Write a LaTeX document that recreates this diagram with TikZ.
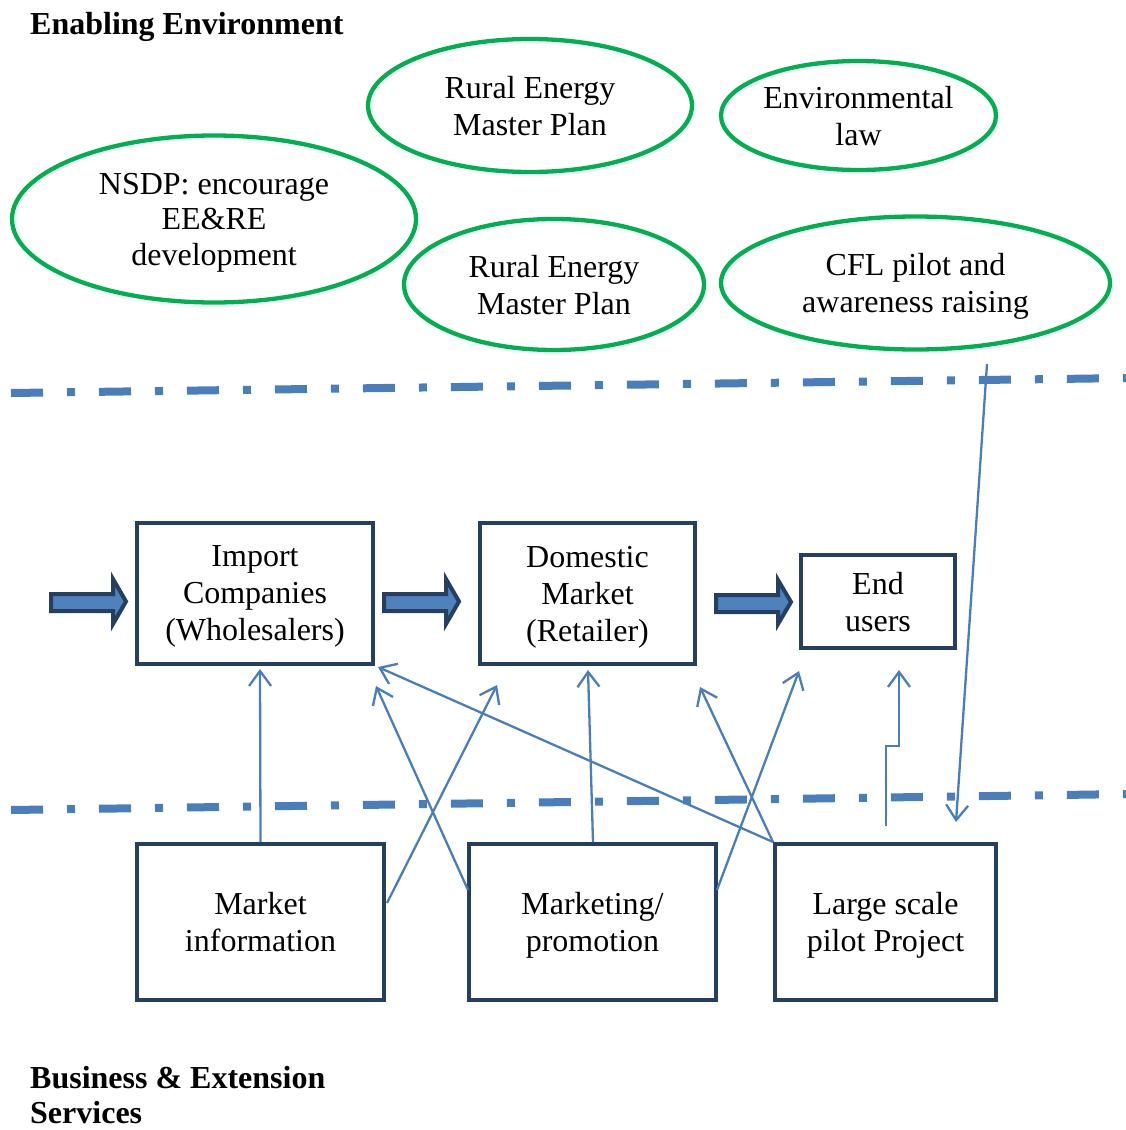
\documentclass[tikz,border=0pt]{standalone}
\usepackage{fontspec}
\setmainfont{Liberation Serif}
\usetikzlibrary{arrows.meta,shapes.geometric,calc}
\definecolor{ellgreen}{HTML}{00B050}
\definecolor{navy}{HTML}{243F60}
\definecolor{lblue}{HTML}{4A7EBB}
\definecolor{afill}{HTML}{4F81BD}
\begin{document}
\begin{tikzpicture}[x=1pt,y=-1pt,
  every node/.style={font=\fontsize{32}{37}\selectfont},
  ell/.style={ellipse,draw=ellgreen,line width=4.3pt,inner sep=0pt,align=center,text depth=0pt},
  box/.style={rectangle,draw=navy,line width=4pt,inner sep=0pt,align=center,text depth=0pt},
  ttl/.style={font=\fontsize{32}{35.5}\selectfont\bfseries,inner sep=0pt,align=left,text depth=0pt},
  conn/.style={draw=lblue,line width=2.3pt,-{Straight Barb[length=15pt,width=22pt,line width=2.3pt]}},
  sep/.style={draw=lblue,line width=8pt,dash pattern=on 32pt off 24pt on 8pt off 24pt},
  blk/.style={draw=navy,fill=afill,line width=4pt,line join=miter}
]
\useasboundingbox (0,0) rectangle (1126,1130);

% titles
\node[ttl,anchor=base west] (t1) at (30,34) {Enabling Environment};
\node[ttl,anchor=north west] (t2) at (30,1066) {Business \& Extension\\Services};

% ellipses
\node[ell,minimum width=324pt,minimum height=133pt] (e1) at (530,105.5) {Rural Energy\\Master Plan};
\node[ell,minimum width=275pt,minimum height=109pt] (e2) at (858.5,115.5) {Environmental\\law};
\node[ell,minimum width=404pt,minimum height=167pt,font=\fontsize{32}{35.5}\selectfont] (e3) at (214,219) {NSDP: encourage\\EE\&RE\\development};
\node[ell,minimum width=300pt,minimum height=131pt] (e4) at (554,284.5) {Rural Energy\\Master Plan};
\node[ell,minimum width=389pt,minimum height=133pt] (e5) at (915.5,283) {CFL pilot and\\awareness raising};

% separator lines
\coordinate (s1a) at (11,393);
\coordinate (s1b) at (1130,378);
\coordinate (s2a) at (11,810);
\coordinate (s2b) at (1130,794);
\draw[sep] (s1a) -- (s1b);
\draw[sep] (s2a) -- (s2b);

% boxes
\node[box,minimum width=236pt,minimum height=141pt] (imp) at (255,593.5) {Import\\Companies\\(Wholesalers)};
\node[box,minimum width=215pt,minimum height=141pt] (dom) at (587.5,593.5) {Domestic\\Market\\(Retailer)};
\node[box,minimum width=154pt,minimum height=93pt] (end) at (878,601.5) {End\\users};
\node[box,minimum width=247pt,minimum height=156pt] (mi) at (260.5,922) {Market\\information};
\node[box,minimum width=247pt,minimum height=156pt] (mk) at (592.5,922) {Marketing/\\promotion};
\node[box,minimum width=221pt,minimum height=156pt] (ls) at (885.5,922) {Large scale\\pilot Project};

% block arrows
\draw[blk] (51,594) -- (113,594) -- (113,579) -- (126,601.5) -- (113,624) -- (113,611) -- (51,611) -- cycle;
\draw[blk] (384,594) -- (446,594) -- (446,579) -- (459,601.5) -- (446,624) -- (446,611) -- (384,611) -- cycle;
\draw[blk] (716,595) -- (778,595) -- (778,580) -- (791,602) -- (778,624) -- (778,612) -- (716,612) -- cycle;

% connector end points
\coordinate (p1) at (260,669);
\coordinate (q2) at (387,903);
\coordinate (p2) at (497,685);
\coordinate (q3) at (468,890);
\coordinate (p3) at (376,686);
\coordinate (q4) at (593,842);
\coordinate (p4) at (588,670);
\coordinate (q5) at (717,890);
\coordinate (p5) at (799,671);
\coordinate (q6) at (773,842);
\coordinate (p6) at (378,667);
\coordinate (p7) at (700,687);
\coordinate (q8) at (886,826);
\coordinate (m8a) at (886,746);
\coordinate (m8b) at (899,746);
\coordinate (p8) at (899,670);
\coordinate (q9) at (987,364);
\coordinate (p9) at (956,822);

\draw[conn] (mi.north) -- (p1);
\draw[conn] (q2) -- (p2);
\draw[conn] (q3) -- (p3);
\draw[conn] (q4) -- (p4);
\draw[conn] (q5) -- (p5);
\draw[conn] (q6) -- (p6);
\draw[conn] (q6) -- (p7);
\draw[conn] (q8) -- (m8a) -- (m8b) -- (p8);
\draw[conn] (q9) -- (p9);
\end{tikzpicture}
\end{document}
